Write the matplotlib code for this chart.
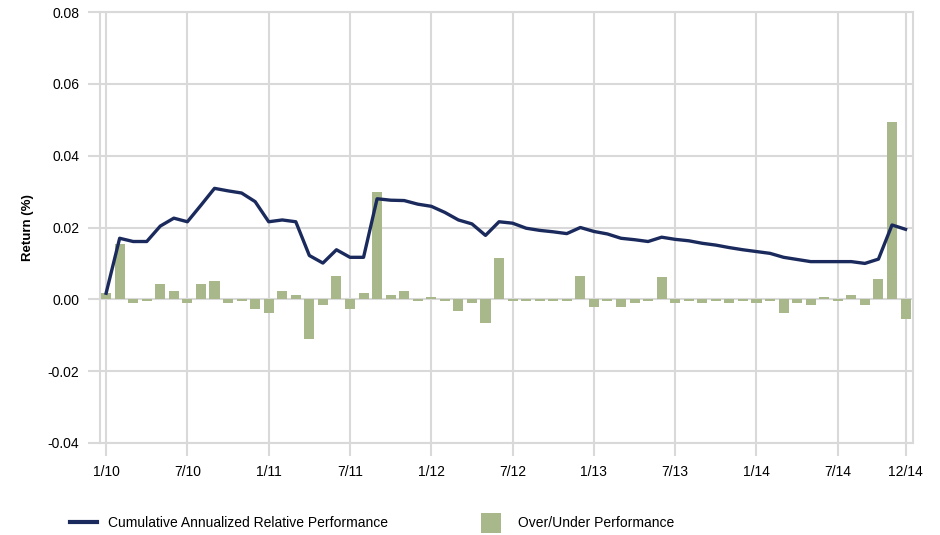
import numpy as np
import matplotlib
matplotlib.use("Agg")
import matplotlib.pyplot as plt
from matplotlib.lines import Line2D
from matplotlib.patches import Patch

# --- Monthly data, Jan 2010 .. Dec 2014 ---
months = np.arange(60)

cumulative = [
    0.0017, 0.0170, 0.0161, 0.0161, 0.0204, 0.0226, 0.0216, 0.0262, 0.0309, 0.0302,
    0.0296, 0.0272, 0.0216, 0.0221, 0.0216, 0.0122, 0.0101, 0.0138, 0.0117, 0.0117,
    0.0280, 0.0276, 0.0275, 0.0265, 0.0259, 0.0242, 0.0221, 0.0210, 0.0178, 0.0216,
    0.0212, 0.0198, 0.0192, 0.0188, 0.0183, 0.0200, 0.0189, 0.0182, 0.0170, 0.0166,
    0.0161, 0.0173, 0.0167, 0.0163, 0.0156, 0.0151, 0.0144, 0.0138, 0.0133, 0.0128,
    0.0117, 0.0111, 0.0105, 0.0105, 0.0105, 0.0105, 0.0100, 0.0112, 0.0207, 0.0195,
]

over_under = [
    0.0017, 0.0155, -0.0010, -0.0005, 0.0044, 0.0022, -0.0010, 0.0044, 0.0050, -0.0010,
    -0.0005, -0.0027, -0.0038, 0.0022, 0.0011, -0.0110, -0.0016, 0.0066, -0.0027, 0.0017,
    0.0300, 0.0011, 0.0022, -0.0005, 0.0006, -0.0005, -0.0032, -0.0010, -0.0065, 0.0116,
    -0.0005, -0.0005, -0.0005, -0.0005, -0.0005, 0.0066, -0.0021, -0.0005, -0.0021, -0.0010,
    -0.0005, 0.0061, -0.0010, -0.0005, -0.0010, -0.0005, -0.0010, -0.0005, -0.0010, -0.0005,
    -0.0038, -0.0010, -0.0016, 0.0006, -0.0005, 0.0011, -0.0016, 0.0056, 0.0494, -0.0055,
]

tick_pos = [0, 6, 12, 18, 24, 30, 36, 42, 48, 54, 59]
tick_labels = ["1/10", "7/10", "1/11", "7/11", "1/12", "7/12",
               "1/13", "7/13", "1/14", "7/14", "12/14"]

line_color = "#1b2a5c"
bar_color = "#a9b88a"
grid_color = "#d9d9d9"

plt.rcParams["font.family"] = ["Liberation Sans", "DejaVu Sans"]

fig = plt.figure(figsize=(9.4, 5.35), dpi=100)
ax = fig.add_axes([100 / 940, 1 - 443 / 535, 813 / 940, 431 / 535])

ax.bar(months, over_under, width=0.74, color=bar_color, zorder=2)
ax.plot(months, cumulative, color=line_color, linewidth=2.4,
        solid_joinstyle="round", zorder=3)

ax.set_xlim(-0.45, 59.55)
ax.set_ylim(-0.04, 0.08)
ax.set_yticks(np.arange(-0.04, 0.081, 0.02))
ax.yaxis.set_major_formatter(matplotlib.ticker.FormatStrFormatter("%.2f"))
ax.set_xticks(tick_pos)
ax.set_xticklabels(tick_labels)

ax.grid(True, color=grid_color, linewidth=1.5, zorder=0)
ax.set_axisbelow(True)
for s in ax.spines.values():
    s.set_color(grid_color)
    s.set_linewidth(1.5)

ax.tick_params(axis="both", colors=grid_color, labelcolor="black",
               labelsize=10, width=1.5)
ax.tick_params(axis="x", length=9, pad=7)
ax.tick_params(axis="y", length=9, pad=6)

ax.set_ylabel("Return (%)", fontsize=9.5, fontweight="bold")
ax.yaxis.set_label_coords(-0.081, 0.5)

# Legend entries placed separately along the bottom
leg1 = fig.legend(handles=[Line2D([0], [0], color=line_color, linewidth=3)],
                  labels=["Cumulative Annualized Relative Performance"],
                  loc="center left", bbox_to_anchor=(57 / 940, 1 - 523 / 535),
                  frameon=False, fontsize=10, handlelength=2.0, handletextpad=0.8)
leg2 = fig.legend(handles=[Patch(facecolor=bar_color, edgecolor="none")],
                  labels=["Over/Under Performance"],
                  loc="center left", bbox_to_anchor=(468 / 940, 1 - 523 / 535),
                  frameon=False, fontsize=10, handlelength=1.5, handleheight=1.8,
                  handletextpad=1.2)

fig.savefig("out.png", dpi=100)
